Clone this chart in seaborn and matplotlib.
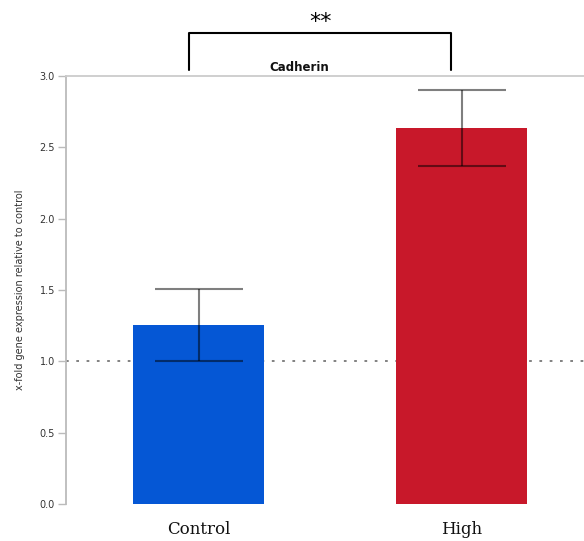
import matplotlib
matplotlib.use("Agg")
import matplotlib.pyplot as plt
import matplotlib.transforms as mtransforms
import seaborn as sns
import pandas as pd

# Relative expression of Cadherin (fold change vs. control)
groups = ["Control", "High"]
fold_change = [1.255, 2.635]
sem = [0.252, 0.268]
bar_colors = ["#0557D5", "#C8182A"]
y_ticks = [0.0, 0.5, 1.0, 1.5, 2.0, 2.5, 3.0]
y_tick_labels = ["0.0", "0.5", "1.0", "1.5", "2.0", "2.5", "3.0"]
baseline = 1.0
gene = "Cadherin"
significance = "**"

df = pd.DataFrame({"group": groups, "fold": fold_change})

sns.set_style("white")
plt.rcParams["font.family"] = ["DejaVu Sans"]

fig = plt.figure(figsize=(5.84, 5.41), dpi=100)
ax = fig.add_axes([0.113, 0.0684, 0.9007, 0.7911])

sns.barplot(data=df, x="group", y="fold", hue="group", palette=bar_colors,
            order=groups, hue_order=groups, errorbar=None, width=0.5,
            legend=False, ax=ax, saturation=1, edgecolor="none", zorder=2)

ax.errorbar(range(len(groups)), fold_change, yerr=sem, fmt="none",
            ecolor="black", alpha=0.5, elinewidth=1.5, capsize=31.5,
            capthick=1.5, zorder=3)

ax.axhline(baseline, color="#777777", linestyle=(0, (1.5, 4.2)),
           linewidth=1.3, zorder=1)

ax.set_xlim(-0.504, 1.496)
ax.set_ylim(0, 3.0)
ax.set_yticks(y_ticks)
ax.set_yticklabels(y_tick_labels)
ax.tick_params(axis="y", direction="out", length=6, width=1, color="#BBBBBB",
               labelsize=7, labelcolor="#333333", pad=2, left=True)
ax.tick_params(axis="x", length=0, labelsize=12, pad=12)
for lbl in ax.get_xticklabels():
    lbl.set_family("DejaVu Serif")
    lbl.set_color("#111111")
ax.set_xlabel("")
ax.set_ylabel("x-fold gene expression relative to control", fontsize=7,
              color="#333333", labelpad=10)

for side in ["right", "bottom"]:
    ax.spines[side].set_visible(False)
ax.spines["left"].set_color("#BBBBBB")
ax.spines["left"].set_linewidth(1.3)
ax.spines["top"].set_color("#CCCCCC")
ax.spines["top"].set_linewidth(1.3)

trans = mtransforms.blended_transform_factory(ax.transData, ax.transAxes)

# gene name just above the plot area
ax.text(0.382, 1.005, gene, transform=trans, ha="center", va="bottom",
        fontsize=8.5, fontweight="bold", color="#111111")

# significance bracket between the two groups
x0, x1 = -0.036, 0.960
ax.plot([x0, x0, x1, x1], [1.014, 1.1005, 1.1005, 1.014], color="black",
        linewidth=1.5, transform=trans, clip_on=False)
ax.text((x0 + x1) / 2, 1.103, significance, transform=trans, ha="center",
        va="bottom", fontsize=16, color="black")

fig.savefig("out.png", dpi=100)
